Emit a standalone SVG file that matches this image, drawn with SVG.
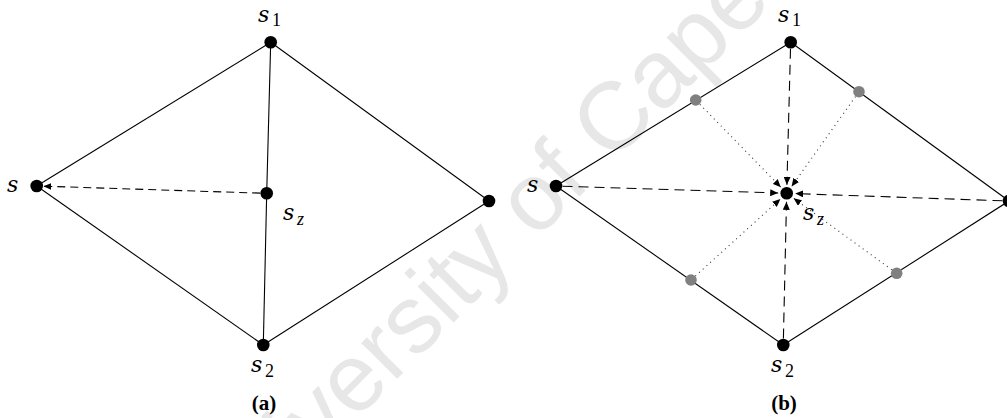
<svg xmlns="http://www.w3.org/2000/svg" width="1007" height="418" viewBox="0 0 1007 418">
<style>
.edge{stroke:#000;stroke-width:1.1;fill:none}
.dashA{stroke:#000;stroke-width:1.1;fill:none;stroke-dasharray:8 5}
.dashB{stroke:#000;stroke-width:1.1;fill:none;stroke-dasharray:10 6}
.dot{stroke:#333;stroke-width:1.1;fill:none;stroke-dasharray:1 4}
.node{fill:#000}
.gnode{fill:#808080}
text.lbl{font-family:'DejaVu Serif',serif;font-style:italic;font-size:22px;fill:#000}
text.sub{font-family:'Liberation Serif',serif;font-size:18px;fill:#000}
text.subi{font-family:'Liberation Serif',serif;font-style:italic;font-size:18px;fill:#000}
text.cap{font-family:'Liberation Serif',serif;font-weight:bold;font-size:21px;fill:#000;text-anchor:middle}
text.wm{font-family:'Liberation Sans',Arial,sans-serif;font-size:96px;fill:#e7e7e7}
</style>
<defs>
<marker id="arr" viewBox="0 0 8 7" refX="8" refY="3.5" markerWidth="8" markerHeight="7" markerUnits="userSpaceOnUse" orient="auto">
<path d="M0,0 L8,3.5 L0,7 Z" fill="#000"/>
</marker>
</defs>
<rect width="1007" height="418" fill="#fff"/>
<text class="wm" x="219" y="557" transform="rotate(-45 219 557)">University of Cape Town</text>

<g id="connectors">
<line class="edge" x1="270.7" y1="42.3" x2="36.7" y2="186"/>
<line class="edge" x1="270.7" y1="42.3" x2="489" y2="201"/>
<line class="edge" x1="270.7" y1="42.3" x2="266.7" y2="193.3"/>
<line class="edge" x1="266.7" y1="193.3" x2="263.3" y2="345"/>
<line class="edge" x1="36.7" y1="186" x2="263.3" y2="345"/>
<line class="edge" x1="263.3" y1="345" x2="489" y2="201"/>
<line class="dashA" x1="260.2" y1="193.1" x2="43.4" y2="186.2" marker-end="url(#arr)"/>
<line class="edge" x1="790.7" y1="42.3" x2="556" y2="186"/>
<line class="edge" x1="790.7" y1="42.3" x2="1009" y2="201"/>
<line class="edge" x1="556" y1="186" x2="783.3" y2="345"/>
<line class="edge" x1="783.3" y1="345" x2="1009" y2="201"/>
<line class="dashB" x1="790.5" y1="48.8" x2="786.9" y2="184.8" marker-end="url(#arr)"/>
<line class="dashB" x1="783.4" y1="338.5" x2="786.5" y2="201.8" marker-end="url(#arr)"/>
<line class="dashB" x1="562.5" y1="186.2" x2="778.2" y2="193.0" marker-end="url(#arr)"/>
<line class="dashB" x1="1002.5" y1="200.8" x2="795.2" y2="193.6" marker-end="url(#arr)"/>
<line class="dot" x1="699.9" y1="104.3" x2="780.8" y2="187.2" marker-end="url(#arr)"/>
<line class="dot" x1="855.5" y1="96.6" x2="791.6" y2="186.4" marker-end="url(#arr)"/>
<line class="dot" x1="695.4" y1="276" x2="780.4" y2="199.0" marker-end="url(#arr)"/>
<line class="dot" x1="891.8" y1="269.8" x2="793.6" y2="198.3" marker-end="url(#arr)"/>
</g>

<g id="a-s1"><circle class="node" cx="270.7" cy="42.3" r="6.3"/><text class="lbl" x="258" y="22">s</text><text class="sub" x="272" y="26">1</text></g>
<g id="a-s"><circle class="node" cx="36.7" cy="186" r="6.3"/><text class="lbl" x="7" y="192">s</text></g>
<g id="a-sz"><circle class="node" cx="266.7" cy="193.3" r="6.3"/><text class="lbl" x="283" y="220">s</text><text class="subi" x="297" y="225">z</text></g>
<g id="a-r"><circle class="node" cx="489" cy="201" r="6.3"/></g>
<g id="a-s2"><circle class="node" cx="263.3" cy="345" r="6.3"/><text class="lbl" x="251" y="372">s</text><text class="sub" x="265" y="377">2</text></g>
<g id="a-cap"><text class="cap" x="264" y="410">(a)</text></g>

<g id="b-s1"><circle class="node" cx="790.7" cy="42.3" r="6.3"/><text class="lbl" x="778" y="22">s</text><text class="sub" x="792" y="26">1</text></g>
<g id="b-s"><circle class="node" cx="556" cy="186" r="6.3"/><text class="lbl" x="527" y="192">s</text></g>
<g id="b-sz"><circle class="node" cx="786.7" cy="193.3" r="6.3"/><text class="lbl" x="803" y="220">s</text><text class="subi" x="817" y="225">z</text></g>
<g id="b-r"><circle class="node" cx="1009" cy="201" r="6.3"/></g>
<g id="b-s2"><circle class="node" cx="783.3" cy="345" r="6.3"/><text class="lbl" x="771" y="372">s</text><text class="sub" x="785" y="377">2</text></g>
<g id="b-g1"><circle class="gnode" cx="695.7" cy="100" r="5.8"/></g>
<g id="b-g2"><circle class="gnode" cx="859" cy="91.7" r="5.8"/></g>
<g id="b-g3"><circle class="gnode" cx="691" cy="280" r="5.8"/></g>
<g id="b-g4"><circle class="gnode" cx="896.7" cy="273.3" r="5.8"/></g>
<g id="b-cap"><text class="cap" x="784" y="410">(b)</text></g>
</svg>
